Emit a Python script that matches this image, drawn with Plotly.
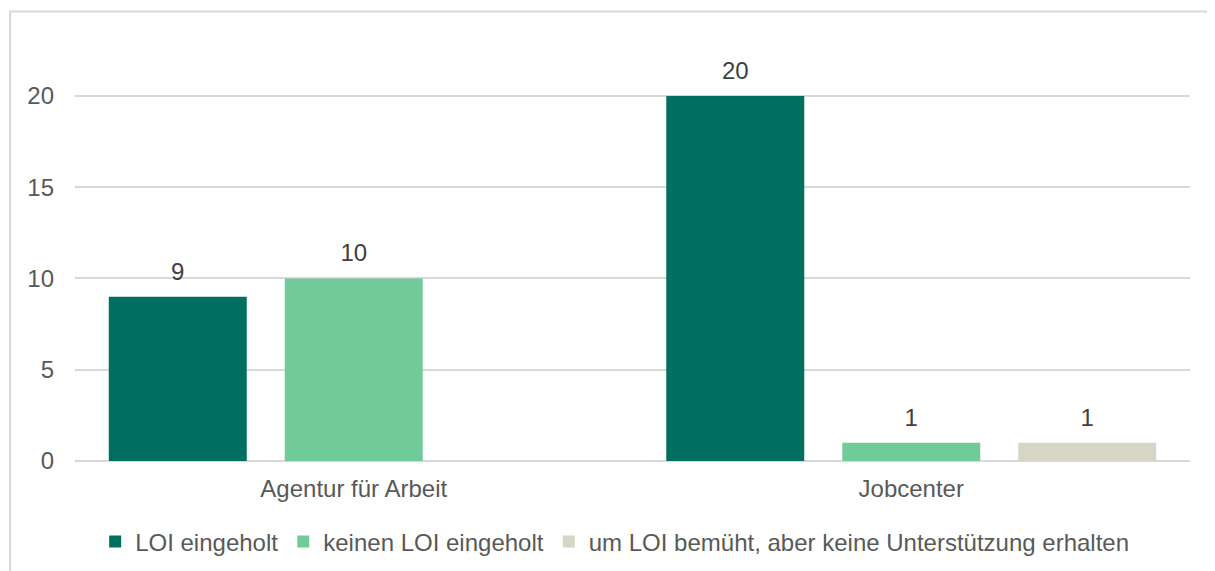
import plotly.graph_objects as go

categories = ["Agentur für Arbeit", "Jobcenter"]
series_names = ["LOI eingeholt", "keinen LOI eingeholt",
                "um LOI bemüht, aber keine Unterstützung erhalten"]
loi_eingeholt = [9, 20]
keinen_loi = [10, 1]
bemueht_ohne_unterstuetzung = [None, 1]
y_ticks = [0, 5, 10, 15, 20]

colors = ["#006F62", "#70CB98", "#D7D5C6"]
values = [loi_eingeholt, keinen_loi, bemueht_ohne_unterstuetzung]

fig = go.Figure()
for name, vals, col in zip(series_names, values, colors):
    fig.add_trace(go.Bar(
        x=categories, y=vals, name=name,
        marker=dict(color=col, line=dict(width=0)),
    ))

# value labels, grouped the same way as the bars; invisible marker lifts the text a bit
for name, vals in zip(series_names, values):
    fig.add_trace(go.Scatter(
        x=categories, y=vals, mode="markers+text", showlegend=False,
        marker=dict(size=16, opacity=0),
        text=[("" if v is None else str(v)) for v in vals],
        textposition="top center",
        textfont=dict(size=24, color="#404040"),
        hoverinfo="skip", cliponaxis=False,
    ))

# light frame around the chart area
fig.add_shape(type="rect", xref="paper", yref="paper",
              x0=-0.0583, x1=1.04, y0=-0.32, y1=1.121,
              line=dict(color="#D9D9D9", width=2), layer="below")

fig.update_layout(
    width=1207, height=563,
    margin=dict(l=67, r=25, t=52, b=110),
    barmode="group",
    bargap=0.053,
    bargroupgap=0.216,
    scattermode="group",
    scattergap=0.053,
    plot_bgcolor="white",
    paper_bgcolor="white",
    font=dict(family="Liberation Sans, Arial", size=24, color="#595959"),
    showlegend=True,
    legend=dict(orientation="h", x=0.484, xanchor="center",
                yref="container", y=0.0515, yanchor="middle",
                font=dict(size=24, color="#595959"), itemwidth=30,
                traceorder="normal"),
)
fig.update_yaxes(range=[0, 21.97], tickvals=y_ticks, showgrid=True,
                 gridcolor="#D9D9D9", gridwidth=1.5, zeroline=True,
                 zerolinecolor="#D9D9D9", zerolinewidth=2, showline=False,
                 ticklabelstandoff=20)
fig.update_xaxes(showgrid=False, showline=False, ticks="", ticklabelstandoff=11)

fig.write_html("out.html")
